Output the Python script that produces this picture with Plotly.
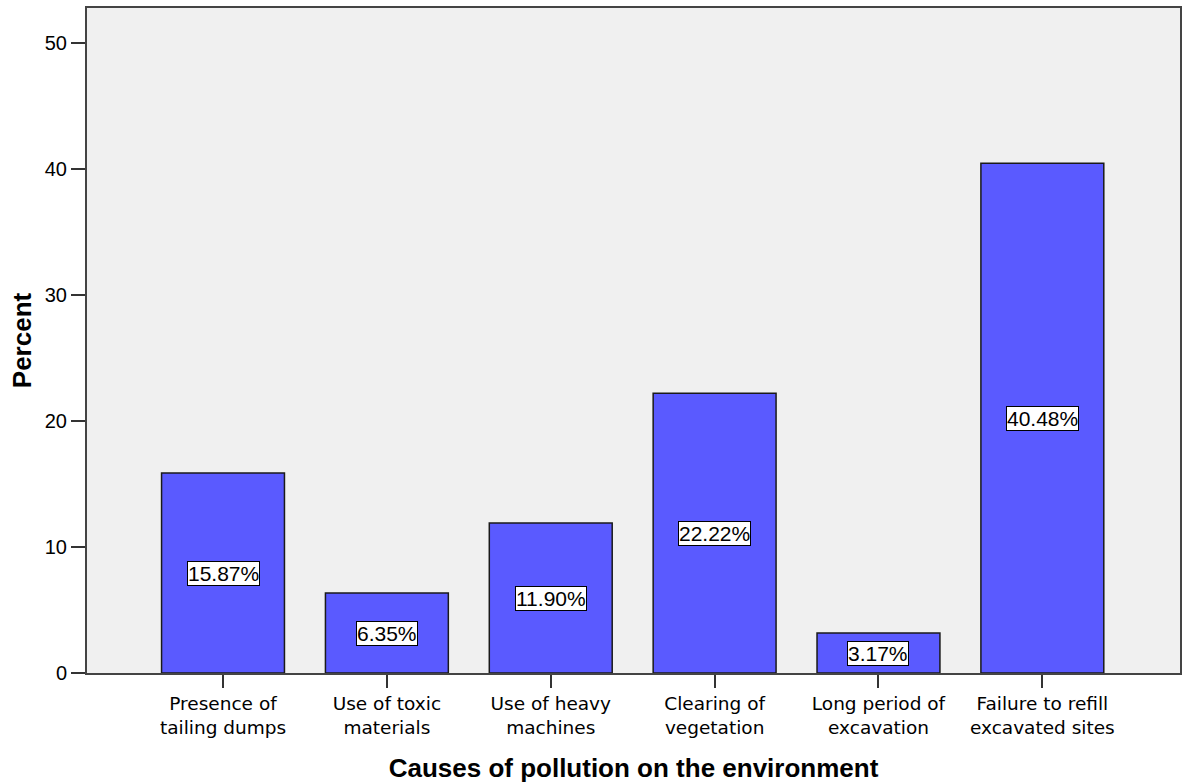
import plotly.graph_objects as go

# Causes of pollution on the environment (percent of respondents)
causes = [
    "Presence of<br>tailing dumps",
    "Use of toxic<br>materials",
    "Use of heavy<br>machines",
    "Clearing of<br>vegetation",
    "Long period of<br>excavation",
    "Failure to refill<br>excavated sites",
]
percent = [15.87, 6.35, 11.90, 22.22, 3.17, 40.48]

bar_color = "#5A5AFF"
sans = "Liberation Sans, Arial, sans-serif"
wide_sans = "DejaVu Sans, Verdana, sans-serif"

fig = go.Figure(
    go.Bar(
        x=list(range(len(causes))),
        y=percent,
        width=0.75,
        marker=dict(color=bar_color, line=dict(color="#1a1a1a", width=1.5)),
        hoverinfo="skip",
    )
)

# value labels boxed in the middle of each bar
for i, v in enumerate(percent):
    fig.add_annotation(
        x=i, y=v / 2, text=f"{v:.2f}%", showarrow=False,
        font=dict(family=sans, size=21, color="black"),
        bgcolor="white", bordercolor="black", borderwidth=1, borderpad=0,
    )

fig.update_layout(
    width=1186, height=784,
    margin=dict(l=87, r=4, t=8, b=111),
    paper_bgcolor="white",
    plot_bgcolor="#F0F0F0",
    font=dict(family=sans, size=18, color="black"),
    showlegend=False,
    xaxis=dict(
        range=[-0.83, 5.84],
        tickmode="array",
        tickvals=list(range(len(causes))),
        ticktext=causes,
        ticks="outside", ticklen=13, tickwidth=2, tickcolor="#333",
        showgrid=False, zeroline=False,
        showline=True, linecolor="#444", linewidth=2, mirror=True,
        tickfont=dict(family=wide_sans, size=18.5),
        title=dict(text="<b>Causes of pollution on the environment</b>",
                   font=dict(family=sans, size=26), standoff=22),
    ),
    yaxis=dict(
        range=[0, 52.8],
        tickvals=[0, 10, 20, 30, 40, 50],
        ticks="outside", ticklen=14, tickwidth=2, tickcolor="#333",
        showgrid=False, zeroline=False,
        showline=True, linecolor="#444", linewidth=2, mirror=True,
        tickfont=dict(family=sans, size=20),
        title=dict(text="<b>Percent</b>", font=dict(family=sans, size=26), standoff=6),
    ),
)

fig.write_html("out.html")
